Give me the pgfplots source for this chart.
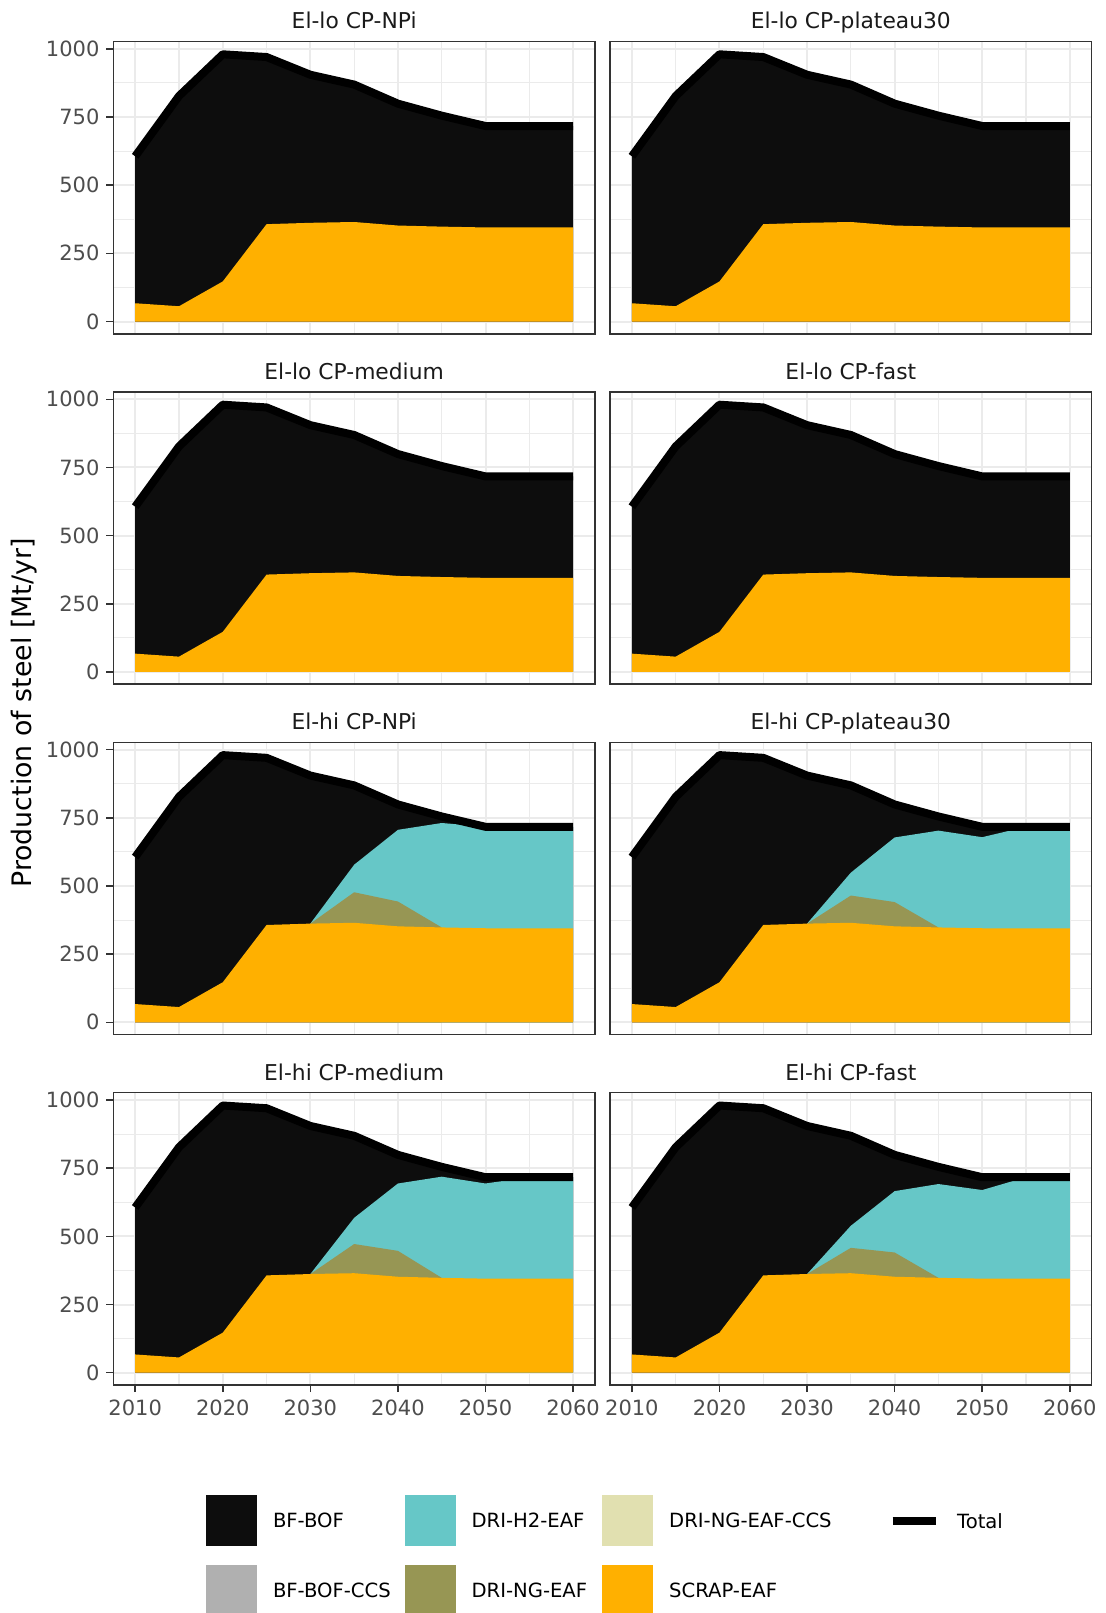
\documentclass[border=0pt]{standalone}
\usepackage{pgfplots}
\pgfplotsset{compat=1.18}
\usepackage{pgfplotstable}
\usepackage{fontspec}
\setmainfont{DejaVu Sans}
\definecolor{bfc}{HTML}{0D0D0D}
\definecolor{bfccs}{HTML}{B0B0B0}
\definecolor{h2c}{HTML}{66C7C7}
\definecolor{ngc}{HTML}{979654}
\definecolor{ngccs}{HTML}{E1E0B0}
\definecolor{scc}{HTML}{FFB000}
\definecolor{g20}{HTML}{333333}
\definecolor{g30}{HTML}{4D4D4D}
\definecolor{g10}{HTML}{1A1A1A}
\definecolor{g92}{HTML}{EBEBEB}

% cumulative stacks: s = SCRAP-EAF, sn = + DRI-NG-EAF, snh = + DRI-H2-EAF, tot = + BF-BOF (= Total)
\pgfplotstableread{
year s sn snh tot
2010 67 67 67 606
2015 56 56 56 827
2020 147 147 147 980
2025 357 357 357 970
2030 362 362 362 905
2035 365 365 365 869
2040 352 352 352 799
2045 348 348 348 755
2050 345 345 345 717
2055 345 345 345 717
2060 345 345 345 717
}\lotab

\pgfplotstableread{
year s sn snh tot
2010 67 67 67 606
2015 56 56 56 827
2020 147 147 147 980
2025 357 357 357 970
2030 362 362 362 905
2035 365 477 578 869
2040 352 443 706 799
2045 348 348 731 755
2050 345 345 717 717
2055 345 345 717 717
2060 345 345 717 717
}\hinpi

\pgfplotstableread{
year s sn snh tot
2010 67 67 67 606
2015 56 56 56 827
2020 147 147 147 980
2025 357 357 357 970
2030 362 362 362 905
2035 365 465 549 869
2040 352 441 678 799
2045 348 348 703 755
2050 345 345 679 717
2055 345 345 717 717
2060 345 345 717 717
}\hiplat

\pgfplotstableread{
year s sn snh tot
2010 67 67 67 606
2015 56 56 56 827
2020 147 147 147 980
2025 357 357 357 970
2030 362 362 362 905
2035 365 472 568 869
2040 352 447 694 799
2045 348 348 719 755
2050 345 345 694 717
2055 345 345 717 717
2060 345 345 717 717
}\himed

\pgfplotstableread{
year s sn snh tot
2010 67 67 67 606
2015 56 56 56 827
2020 147 147 147 980
2025 357 357 357 970
2030 362 362 362 905
2035 365 458 539 869
2040 352 441 666 799
2045 348 348 692 755
2050 345 345 670 717
2055 345 345 717 717
2060 345 345 717 717
}\hifast

\pgfplotsset{panel/.style={
 scale only axis, width=240.85pt, height=146.15pt,
 xmin=2007.5, xmax=2062.5, ymin=-45, ymax=1027,
 xtick={2010,2020,2030,2040,2050,2060},
 minor xtick={2015,2025,2035,2045,2055},
 ytick={0,250,500,750,1000},
 minor ytick={125,375,625,875},
 grid=both,
 major grid style={draw=g92, line width=1pt},
 minor grid style={draw=g92, line width=0.55pt},
 axis line style={draw=g20, line width=0.75pt},
 tick align=outside, xtick pos=left, ytick pos=left,
 major tick length=3.6pt, minor tick length=0pt,
 major tick style={draw=g20, line width=0.75pt},
 tick label style={font=\fontsize{10.5}{12}\selectfont, text=g30, /pgf/number format/assume math mode=true, /pgf/number format/1000 sep={}},
 xticklabel style={anchor=base, inner sep=0pt, yshift=-11.7pt},
 yticklabel style={anchor=east, inner sep=0pt, xshift=-3.15pt},
 title style={font=\fontsize{10.9}{13}\selectfont, text=g10, anchor=base, at={(0.5,1)}, yshift=0.3pt, inner sep=0pt},
},
noxt/.style={xmajorticks=false, xticklabels={}},
noyt/.style={ymajorticks=false, yticklabels={}},
}

% #1 x, #2 y, #3 title, #4 table, #5 options, #6 extra
\newcommand{\lopanel}[6]{%
\begin{axis}[panel, at={(#1,#2)}, anchor=north west, title={#3}, #5]
\addplot[draw=none, fill=bfc, forget plot] table[x=year,y=tot] {#4} \closedcycle;
\addplot[draw=none, fill=scc, forget plot] table[x=year,y=s] {#4} \closedcycle;
\addplot[black, line width=4pt, line join=round, forget plot] table[x=year,y=tot] {#4};
#6
\end{axis}}
\newcommand{\hipanel}[6]{%
\begin{axis}[panel, at={(#1,#2)}, anchor=north west, title={#3}, #5]
\addplot[draw=none, fill=bfc, forget plot] table[x=year,y=tot] {#4} \closedcycle;
\addplot[draw=none, fill=h2c, forget plot, restrict x to domain=2030:2060] table[x=year,y=snh] {#4} \closedcycle;
\addplot[draw=none, fill=ngc, forget plot, restrict x to domain=2030:2045] table[x=year,y=sn] {#4} \closedcycle;
\addplot[draw=none, fill=scc, forget plot] table[x=year,y=s] {#4} \closedcycle;
\addplot[black, line width=4pt, line join=round, forget plot] table[x=year,y=tot] {#4};
#6
\end{axis}}

\begin{document}
\begin{tikzpicture}
\path[use as bounding box] (0,0) rectangle (553pt,806.5pt);
\lopanel{56.65pt}{785.75pt}{El-lo CP-NPi}{\lotab}{noxt}{}
\lopanel{305pt}{785.75pt}{El-lo CP-plateau30}{\lotab}{noxt,noyt}{}
\lopanel{56.65pt}{610.55pt}{El-lo CP-medium}{\lotab}{noxt}{}
\lopanel{305pt}{610.55pt}{El-lo CP-fast}{\lotab}{noxt,noyt}{}
\hipanel{56.65pt}{435.35pt}{El-hi CP-NPi}{\hinpi}{noxt}{}
\hipanel{305pt}{435.35pt}{El-hi CP-plateau30}{\hiplat}{noxt,noyt}{}
\hipanel{56.65pt}{260.15pt}{El-hi CP-medium}{\himed}{legend columns=4, legend cell align=left,
 legend style={at={(0.19203,-0.37564)}, anchor=north west, draw=none, fill=none, inner sep=0pt, row sep=9.3pt, column sep=0pt, nodes={inner sep=0pt, text depth=0pt, font=\fontsize{9.8}{12}\selectfont, text=black}}}{%
\addlegendimage{legend image code/.code={\fill[bfc, draw=none] (0pt,-12.75pt) rectangle (25.5pt,12.75pt);}}
\addlegendentry{\makebox[73.8pt][l]{\hspace*{7.9pt}BF-BOF}}
\addlegendimage{legend image code/.code={\fill[h2c, draw=none] (0pt,-12.75pt) rectangle (25.5pt,12.75pt);}}
\addlegendentry{\makebox[73.3pt][l]{\hspace*{7.9pt}DRI-H2-EAF}}
\addlegendimage{legend image code/.code={\fill[ngccs, draw=none] (0pt,-12.75pt) rectangle (25.5pt,12.75pt);}}
\addlegendentry{\makebox[115.7pt][l]{\hspace*{7.9pt}DRI-NG-EAF-CCS}}
\addlegendimage{legend image code/.code={\path[draw=none, fill=none] (0pt,-12.75pt) rectangle (28.25pt,12.75pt); \draw[black, line width=4pt] (3.95pt,0pt) -- (25.8pt,0pt);}}
\addlegendentry{\makebox[50pt][l]{\hspace*{7.9pt}Total}}
\addlegendimage{legend image code/.code={\fill[bfccs, draw=none] (0pt,-12.75pt) rectangle (25.5pt,12.75pt);}}
\addlegendentry{\makebox[73.8pt][l]{\hspace*{7.9pt}BF-BOF-CCS}}
\addlegendimage{legend image code/.code={\fill[ngc, draw=none] (0pt,-12.75pt) rectangle (25.5pt,12.75pt);}}
\addlegendentry{\makebox[73.3pt][l]{\hspace*{7.9pt}DRI-NG-EAF}}
\addlegendimage{legend image code/.code={\fill[scc, draw=none] (0pt,-12.75pt) rectangle (25.5pt,12.75pt);}}
\addlegendentry{\makebox[115.7pt][l]{\hspace*{7.9pt}SCRAP-EAF}}
}
\hipanel{305pt}{260.15pt}{El-hi CP-fast}{\hifast}{noyt}{}
\node[rotate=90, font=\fontsize{13.4}{16}\selectfont, text=black] at (12.3pt,450pt) {Production of steel [Mt/yr]};
\end{tikzpicture}
\end{document}
